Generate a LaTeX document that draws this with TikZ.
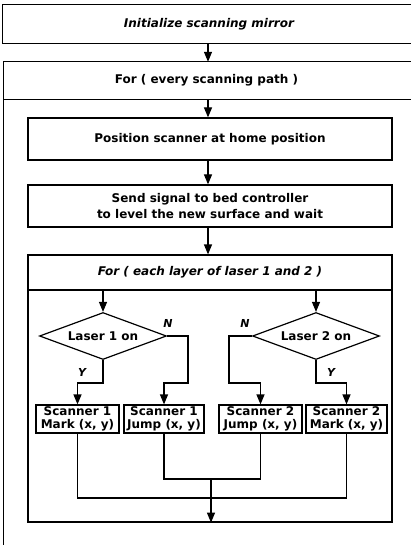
\documentclass[tikz,border=0pt]{standalone}
\usepackage{fontspec}
\setmainfont{DejaVu Sans}
\usetikzlibrary{shapes.geometric,arrows.meta}
\begin{document}
\begin{tikzpicture}[x=1pt,y=-1pt,
  every node/.style={font=\fontsize{12}{15}\selectfont\bfseries},
  box/.style={draw, line width=1.2pt, rectangle, inner sep=0pt, align=center},
  openbox/.style={rectangle, inner sep=0pt, align=center},
  dia/.style={draw, line width=1.2pt, diamond, shape aspect=2.7, inner sep=1pt,
              minimum width=127pt, minimum height=47pt},
  ln/.style={line width=1.2pt},
  arr/.style={line width=1.2pt, -{Triangle[length=10pt,width=8pt]}},
  yn/.style={font=\fontsize{11}{13}\selectfont\bfseries\itshape, inner sep=0pt}
]
\useasboundingbox (0,0) rectangle (411,545);
\coordinate (ax) at (208,0);
\coordinate (bottomend) at (0,560);

% top box (open to the right edge)
\node[openbox, minimum width=412pt, minimum height=38pt, font=\fontsize{12}{15}\selectfont\bfseries\itshape]
  (init) at (209,24) {Initialize scanning mirror};
\draw[ln] (init.north east) -- (init.north west) -- (init.south west) -- (init.south east);

% outer loop (open to the right and bottom edges)
\node[openbox, minimum width=411pt, minimum height=37pt] (outerhead) at (209.5,80.5) {For ( every scanning path )\hspace*{6pt}};
\draw[ln] (outerhead.north east) -- (outerhead.north west) -- (outerhead.south west |- bottomend);
\draw[ln] (outerhead.south west) -- (outerhead.south east);

\node[box, minimum width=364pt, minimum height=42pt] (pos) at (210,139) {Position scanner at home position};
\node[box, minimum width=364pt, minimum height=42pt, font=\fontsize{12}{16}\selectfont\bfseries] (send) at (210,206)
  {Send signal to bed controller\\to level the new surface and wait};

% inner loop
\node[box, minimum width=364pt, minimum height=35pt, font=\fontsize{12}{15}\selectfont\bfseries\itshape]
  (innerhead) at (210,272.5) {For ( each layer of laser 1 and 2 )};
\node[box, minimum width=364pt, minimum height=232pt] (innerbody) at (210,406) {};

% decisions
\node[dia] (d1) at (103,336) {Laser 1 on};
\node[dia] (d2) at (316,336) {Laser 2 on};

% scanner boxes
\node[box, minimum width=83pt, minimum height=28pt, font=\fontsize{12}{13}\selectfont\bfseries] (b1) at (77.5,419) {Scanner 1\\Mark (x, y)};
\node[box, minimum width=80pt, minimum height=28pt, font=\fontsize{12}{13}\selectfont\bfseries] (b2) at (164,419) {Scanner 1\\Jump (x, y)};
\node[box, minimum width=83pt, minimum height=28pt, font=\fontsize{12}{13}\selectfont\bfseries] (b3) at (260.5,419) {Scanner 2\\Jump (x, y)};
\node[box, minimum width=81pt, minimum height=28pt, font=\fontsize{12}{13}\selectfont\bfseries] (b4) at (346.5,419) {Scanner 2\\Mark (x, y)};

% labels
\node[yn] (n1l) at (168,323) {N};
\node[yn] (n2l) at (245,323) {N};
\node[yn] (y1l) at (82,372) {Y};
\node[yn] (y2l) at (331,372) {Y};

% main arrows
\draw[arr] (init.south -| ax) -- (outerhead.north -| ax);
\draw[arr] (outerhead.south -| ax) -- (pos.north -| ax);
\draw[arr] (pos.south -| ax) -- (send.north -| ax);
\draw[arr] (send.south -| ax) -- (innerhead.north -| ax);
\draw[arr] (innerhead.south -| d1.north) -- (d1.north);
\draw[arr] (innerhead.south -| d2.north) -- (d2.north);

% branches
\coordinate (j1) at (188,383);
\coordinate (j2) at (229,383);
\draw[arr] (d1.east) -| (j1) -| (b2.north);
\draw[arr] (d1.south) |- (b1.north |- j1) -- (b1.north);
\draw[arr] (d2.west) -| (j2) -| (b3.north);
\draw[arr] (d2.south) |- (b4.north |- j1) -- (b4.north);

% merges
\coordinate (m1) at (211,479);
\coordinate (m2) at (211,498);
\draw[ln] (b2.south) |- (m1) -| (b3.south);
\draw[ln] (b1.south) |- (m2) -| (b4.south);
\draw[arr] (m1) -- (innerbody.south -| m1);
\end{tikzpicture}
\end{document}
